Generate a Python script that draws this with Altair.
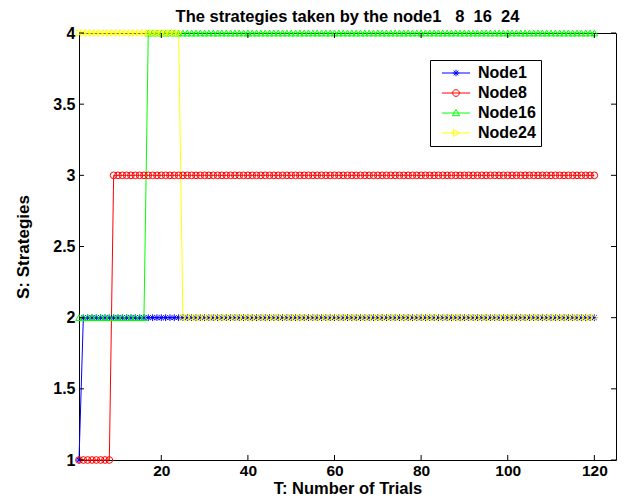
import altair as alt
import pandas as pd

# ---- data ----
trials = list(range(1, 121))
series_names = ["Node1", "Node8", "Node16", "Node24"]
node1 = [1] + [2] * 119
node8 = [1] * 8 + [3] * 112
node16 = [2] * 16 + [4] * 104
node24 = [4] * 24 + [2] * 96
colors = ["#0000ff", "#ff0000", "#00ff00", "#ffff00"]
asterisk = "M-1,0H1M0,-1V1M-0.7,-0.7L0.7,0.7M-0.7,0.7L0.7,-0.7"
shapes = [asterisk, "circle", "triangle-up", "triangle-right"]
# legend symbols: marker with a line through it (MATLAB style)
seg = "M-4.2,0H4.2"
legend_shapes = [
    seg + asterisk,
    seg + "M-1,0A1,1 0 1,1 1,0A1,1 0 1,1 -1,0",
    seg + "M0,-1L1.1,0.8L-1.1,0.8Z",
    seg + "M1,0L-0.8,-1.1L-0.8,1.1Z",
]
x_ticks = [20, 40, 60, 80, 100, 120]
y_ticks = [1, 1.5, 2, 2.5, 3, 3.5, 4]

rows = []
for name, vals in zip(series_names, [node1, node8, node16, node24]):
    for t, v in zip(trials, vals):
        rows.append({"T": t, "S": v, "Node": name, "NodeL": name})
df = pd.DataFrame(rows)

W, H = 537, 427
FONT = "Liberation Sans"

xs = alt.Scale(domain=[1, 125], nice=False, zero=False)
ys = alt.Scale(domain=[1, 4], nice=False, zero=False)

x_axis = alt.Axis(values=x_ticks, ticks=False, domain=False, grid=False,
                  labelPadding=3, labelFontSize=15.5, titleFontSize=16.5,
                  titleY=33, titleBaseline="alphabetic")
y_axis = alt.Axis(values=y_ticks, format="~g", ticks=False, domain=False,
                  grid=False, labelPadding=4, labelFontSize=16,
                  titleFontSize=17, titleX=-56, titleBaseline="middle")
x_enc = alt.X("T:Q", scale=xs, title="T: Number of Trials", axis=x_axis)
y_enc = alt.Y("S:Q", scale=ys, title="S: Strategies", axis=y_axis)

cscale = alt.Scale(domain=series_names, range=colors)
sscale = alt.Scale(domain=series_names, range=shapes)
lscale = alt.Scale(domain=series_names, range=legend_shapes)
leg = alt.Legend(title=None, orient="none", legendX=351, legendY=27,
                 strokeColor="black", fillColor="white",
                 padding=5, labelFontSize=16, labelFontWeight="bold",
                 labelColor="black", symbolSize=45, rowPadding=4,
                 symbolOffset=13, labelOffset=14, cornerRadius=0,
                 symbolStrokeWidth=1)

lines = alt.Chart(df).mark_line(strokeWidth=1).encode(
    x=x_enc, y=y_enc,
    color=alt.Color("Node:N", scale=cscale, legend=None),
    detail="Node:N",
)
points = alt.Chart(df).mark_point(filled=False, size=45, strokeWidth=1, opacity=1).encode(
    x=x_enc, y=y_enc,
    color=alt.Color("Node:N", scale=cscale, legend=None),
    shape=alt.Shape("Node:N", scale=sscale, legend=None),
)
legend_layer = alt.Chart(df).transform_filter("false").mark_point(
    filled=False, size=45, strokeWidth=1, opacity=1).encode(
    x=x_enc, y=y_enc,
    color=alt.Color("NodeL:N", scale=cscale, legend=leg),
    shape=alt.Shape("NodeL:N", scale=lscale, legend=leg),
)

ydf = pd.DataFrame({"S": y_ticks})
xdf = pd.DataFrame({"T": x_ticks})
tick_y_left = alt.Chart(ydf).mark_rule(color="black", strokeWidth=1).encode(
    y=y_enc, x=alt.value(0), x2=alt.value(5))
tick_y_right = alt.Chart(ydf).mark_rule(color="black", strokeWidth=1).encode(
    y=y_enc, x=alt.value(W - 5), x2=alt.value(W))
tick_x_bottom = alt.Chart(xdf).mark_rule(color="black", strokeWidth=1).encode(
    x=x_enc, y=alt.value(H - 5), y2=alt.value(H))
tick_x_top = alt.Chart(xdf).mark_rule(color="black", strokeWidth=1).encode(
    x=x_enc, y=alt.value(0), y2=alt.value(5))

chart = alt.layer(
    lines, points, tick_y_left, tick_y_right, tick_x_bottom, tick_x_top, legend_layer
).resolve_scale(
    color="independent", shape="independent"
).properties(
    width=W, height=H,
    autosize=alt.AutoSizeParams(type="none"),
    padding={"left": 71, "top": 25, "right": 1, "bottom": 36},
    title=alt.TitleParams(
        "The strategies taken by the node1\u00a0\u00a0\u00a08\u00a0\u00a016\u00a0\u00a024",
        fontSize=16.5, fontWeight="bold", font=FONT, color="black",
        anchor="middle", offset=0),
).configure(
    font=FONT,
).configure_axis(
    labelFont=FONT, titleFont=FONT, labelFontWeight="bold", titleFontWeight="bold",
    labelColor="black", titleColor="black",
).configure_legend(
    labelFont=FONT,
).configure_view(
    stroke="black", strokeWidth=1,
)

chart.save("out.html", embed_options={"renderer": "svg", "actions": False})
